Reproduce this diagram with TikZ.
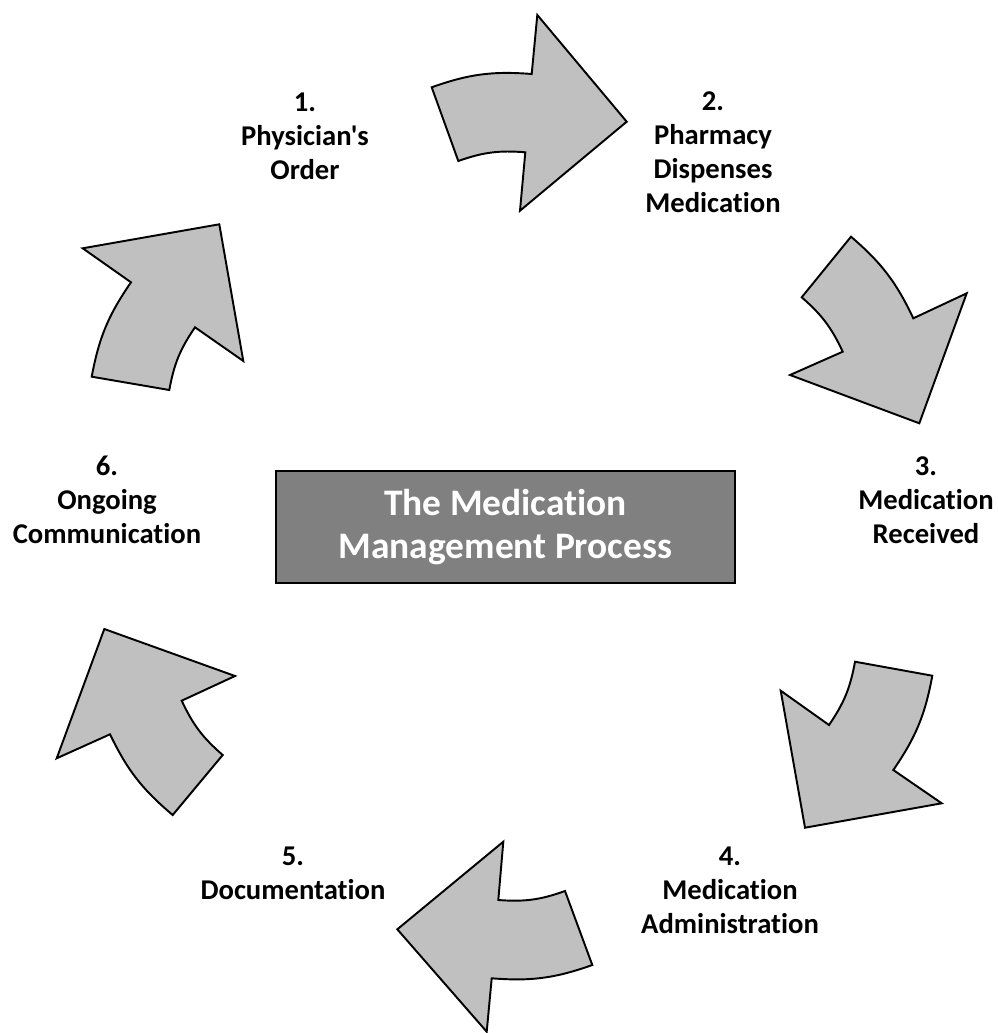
\documentclass[tikz,border=0pt]{standalone}
\usepackage{fontspec}
\setmainfont{Carlito}[Ligatures={TeXOff,CommonOff}]
\definecolor{arrowgray}{RGB}{192,192,192}
\definecolor{boxgray}{RGB}{128,128,128}
\begin{document}
\begin{tikzpicture}[x=0.02cm,y=0.02cm,
  cyclearrow/.style={draw=black, line width=1.1pt, fill=arrowgray, line join=miter},
  steplabel/.style={align=center, inner sep=0pt, font=\fontsize{16.3}{19.3}\selectfont\bfseries, text=black},
  titlebox/.style={draw=black, line width=1.1pt, fill=boxgray, text=white, align=center,
    minimum width=9.18cm, minimum height=2.24cm, inner sep=0pt,
    font=\fontsize{21.3}{24.4}\selectfont\bfseries}]
\useasboundingbox (0,0) rectangle (997,-1033);

% arrow 1 -> 2 (top)
\draw[cyclearrow] (431.7,-87.3) to[bend left=12] (531.7,-74) -- (537.3,-15) -- (626.7,-121.7)
  -- (520,-210.7) -- (525.3,-152.3) to[bend right=12] (458.3,-161) -- cycle;
% arrow 2 -> 3
\draw[cyclearrow] (851,-236.7) to[bend left=12] (913.3,-318.3) -- (966.7,-293.3) -- (919.3,-423.3)
  -- (790,-375) -- (842.7,-351.7) to[bend right=12] (801.7,-297.3) -- cycle;
% arrow 3 -> 4
\draw[cyclearrow] (932.3,-675.7) to[bend left=12] (893.3,-770) -- (941.7,-803.3) -- (805,-827.7)
  -- (780.7,-690.7) -- (829,-725) to[bend right=12] (855,-661.7) -- cycle;
% arrow 4 -> 5 (bottom)
\draw[cyclearrow] (592.3,-965) to[bend left=12] (491.7,-978.3) -- (486.7,-1031.7) -- (397.3,-929.3)
  -- (503.3,-841.7) -- (498.3,-900) to[bend right=12] (565,-891) -- cycle;
% arrow 5 -> 6
\draw[cyclearrow] (172.7,-815) to[bend left=12] (110,-734.3) -- (56.7,-758.3) -- (104.3,-629)
  -- (235,-676) -- (181.7,-700.7) to[bend right=12] (222.7,-755) -- cycle;
% arrow 6 -> 1
\draw[cyclearrow] (91.7,-376.7) to[bend left=12] (131,-282.3) -- (82.7,-248.3) -- (219.3,-224.3)
  -- (243.3,-361) -- (195,-327.3) to[bend right=12] (169.3,-390) -- cycle;

\node[titlebox] (title) at (505.5,-527) {The Medication\\Management Process};

\node[steplabel] (s1) at (305,-136) {1.\\Physician's\\Order};
\node[steplabel] (s2) at (713,-152) {2.\\Pharmacy\\Dispenses\\Medication};
\node[steplabel] (s3) at (926,-500) {3.\\Medication\\Received};
\node[steplabel] (s4) at (730,-890) {4.\\Medication\\Administration};
\node[steplabel] (s5) at (293,-873) {5.\\Documentation};
\node[steplabel] (s6) at (107,-500) {6.\\Ongoing\\Communication};
\end{tikzpicture}
\end{document}
